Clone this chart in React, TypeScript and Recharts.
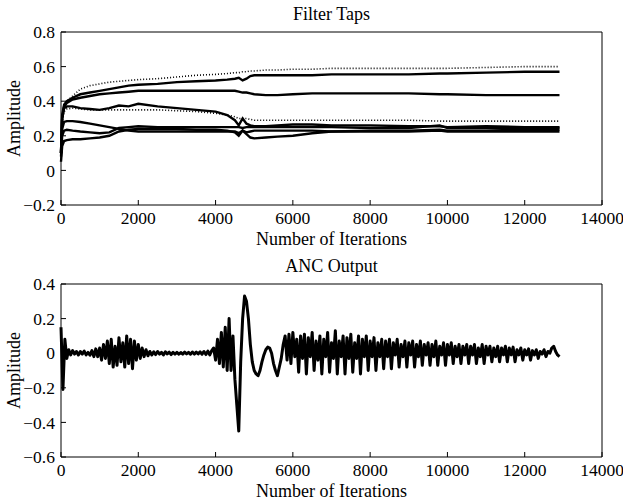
import React from "react";
import { LineChart, Line, XAxis, YAxis } from "recharts";

// ---------- Data ----------
const xTicks = [0, 2000, 4000, 6000, 8000, 10000, 12000, 14000];
const tapYTicks = [-0.2, 0, 0.2, 0.4, 0.6, 0.8];
const ancYTicks = [-0.6, -0.4, -0.2, 0, 0.2, 0.4];

const tapIter = [0, 30, 80, 150, 300, 500, 750, 1000, 1250, 1500, 1750, 2000, 2500, 3000, 3500, 4000, 4300, 4500, 4600, 4700, 4800, 4900, 5000, 5300, 5600, 6000, 6500, 7000, 8000, 9000, 9800, 10000, 11000, 12000, 12900];

const tap1 = [0.1, 0.3, 0.38, 0.4, 0.43, 0.47, 0.49, 0.5, 0.51, 0.515, 0.52, 0.525, 0.53, 0.54, 0.55, 0.555, 0.56, 0.565, 0.565, 0.57, 0.57, 0.575, 0.575, 0.58, 0.58, 0.585, 0.585, 0.59, 0.59, 0.59, 0.59, 0.59, 0.595, 0.6, 0.6];
const tap2 = [0.1, 0.32, 0.38, 0.4, 0.42, 0.44, 0.45, 0.46, 0.47, 0.48, 0.49, 0.495, 0.5, 0.51, 0.515, 0.52, 0.525, 0.53, 0.535, 0.52, 0.53, 0.545, 0.55, 0.55, 0.55, 0.55, 0.55, 0.555, 0.555, 0.555, 0.56, 0.56, 0.565, 0.57, 0.57];
const tap3 = [0.1, 0.3, 0.37, 0.39, 0.41, 0.42, 0.43, 0.44, 0.445, 0.45, 0.455, 0.46, 0.46, 0.46, 0.46, 0.46, 0.46, 0.46, 0.455, 0.45, 0.45, 0.445, 0.44, 0.435, 0.435, 0.44, 0.445, 0.445, 0.445, 0.445, 0.44, 0.44, 0.435, 0.435, 0.435];
const tap4 = [0.1, 0.3, 0.36, 0.37, 0.37, 0.36, 0.355, 0.35, 0.36, 0.375, 0.37, 0.385, 0.37, 0.36, 0.35, 0.34, 0.32, 0.29, 0.26, 0.3, 0.27, 0.26, 0.255, 0.255, 0.26, 0.265, 0.265, 0.26, 0.26, 0.255, 0.255, 0.25, 0.255, 0.25, 0.25];
const tap5 = [0.1, 0.28, 0.34, 0.355, 0.36, 0.355, 0.35, 0.35, 0.35, 0.35, 0.35, 0.35, 0.35, 0.345, 0.34, 0.33, 0.32, 0.31, 0.3, 0.3, 0.3, 0.295, 0.29, 0.29, 0.29, 0.29, 0.29, 0.29, 0.29, 0.29, 0.285, 0.285, 0.285, 0.285, 0.285];
const tap6 = [0.1, 0.24, 0.28, 0.285, 0.285, 0.28, 0.27, 0.26, 0.25, 0.24, 0.23, 0.225, 0.225, 0.225, 0.225, 0.225, 0.225, 0.225, 0.215, 0.23, 0.22, 0.225, 0.23, 0.23, 0.23, 0.23, 0.23, 0.225, 0.225, 0.225, 0.23, 0.225, 0.225, 0.225, 0.225];
const tap7 = [0.08, 0.2, 0.23, 0.235, 0.23, 0.225, 0.22, 0.215, 0.22, 0.245, 0.25, 0.255, 0.25, 0.25, 0.25, 0.25, 0.25, 0.25, 0.25, 0.245, 0.25, 0.25, 0.25, 0.25, 0.25, 0.25, 0.25, 0.25, 0.245, 0.245, 0.26, 0.245, 0.245, 0.245, 0.245];
const tap8 = [0.05, 0.14, 0.17, 0.175, 0.18, 0.18, 0.185, 0.19, 0.2, 0.225, 0.235, 0.24, 0.24, 0.24, 0.235, 0.235, 0.23, 0.22, 0.2, 0.23, 0.21, 0.19, 0.185, 0.19, 0.195, 0.2, 0.215, 0.225, 0.23, 0.23, 0.235, 0.23, 0.23, 0.235, 0.235];

// ANC output sampled every 50 iterations
const ANC_STEP = 50;
const ancValues = [
  0.15, -0.21, 0.08, -0.03, 0.02, -0.01, 0.015, -0.005, 0.01, -0.01,
  0.01, -0.005, 0.012, -0.01, 0.005, -0.012, 0.015, -0.02, 0.025, -0.02,
  0.03, -0.04, 0.05, -0.03, 0.07, -0.06, 0.08, -0.08, 0.04, -0.07,
  0.09, -0.05, 0.06, -0.08, 0.1, -0.06, 0.08, -0.09, 0.07, -0.04,
  0.05, -0.03, 0.03, -0.02, 0.02, -0.015, 0.01, -0.01, 0.008, -0.008,
  0.01, -0.005, 0.005, -0.01, 0.008, -0.004, 0.006, -0.008, 0.005, -0.005,
  0.005, -0.006, 0.004, -0.005, 0.006, -0.004, 0.005, -0.006, 0.007, -0.005,
  0.006, -0.004, 0.008, -0.006, 0.01, -0.008, 0.012, -0.01, 0.015, 0.03,
  -0.04, 0.08, -0.06, 0.12, -0.08, 0.15, -0.1, 0.2, -0.1, 0.1,
  -0.15, -0.3, -0.45, -0.05, 0.2, 0.33, 0.3, 0.2, 0.05, -0.05,
  -0.1, -0.12, -0.13, -0.1, -0.05, -0.01, 0.02, 0.035, 0.03, 0.0,
  -0.06, -0.1, -0.13, -0.08, -0.03, 0.05, 0.1, -0.04, 0.11, -0.06,
  0.12, -0.02, 0.08, -0.11, 0.1, -0.03, 0.11, -0.12, 0.09, -0.02,
  0.12, -0.1, 0.07, -0.04, 0.1, -0.12, 0.08, -0.02, 0.12, -0.11,
  0.06, -0.03, 0.13, -0.12, 0.07, -0.02, 0.1, -0.12, 0.09, -0.03,
  0.11, -0.11, 0.06, -0.03, 0.1, -0.12, 0.08, -0.02, 0.1, -0.1,
  0.07, -0.02, 0.09, -0.1, 0.06, -0.02, 0.08, -0.09, 0.07, -0.02,
  0.08, -0.09, 0.06, -0.01, 0.08, -0.08, 0.05, -0.02, 0.07, -0.08,
  0.06, -0.01, 0.07, -0.08, 0.05, -0.02, 0.07, -0.07, 0.05, -0.01,
  0.06, -0.07, 0.05, -0.02, 0.07, -0.07, 0.04, -0.01, 0.06, -0.07,
  0.05, -0.01, 0.06, -0.06, 0.04, -0.02, 0.05, -0.06, 0.04, -0.01,
  0.05, -0.06, 0.04, -0.01, 0.05, -0.06, 0.03, -0.02, 0.05, -0.06,
  0.04, -0.01, 0.04, -0.05, 0.03, -0.02, 0.04, -0.05, 0.03, -0.01,
  0.04, -0.05, 0.03, -0.01, 0.035, -0.05, 0.02, -0.01, 0.03, -0.04,
  0.02, -0.01, 0.025, -0.04, 0.015, -0.01, 0.02, -0.03, 0.01, -0.005,
  0.02, -0.02, 0.01, 0.0, 0.03, 0.04, 0.01, -0.01, -0.02,
];

const tapData = tapIter.map((it, i) => ({
  it,
  t1: tap1[i], t2: tap2[i], t3: tap3[i], t4: tap4[i],
  t5: tap5[i], t6: tap6[i], t7: tap7[i], t8: tap8[i],
}));
const ancData = ancValues.map((v, i) => ({ it: i * ANC_STEP, v }));

// ---------- Styling ----------
const FONT = "'Liberation Serif', 'Times New Roman', serif";
const titleStyle = { fontFamily: FONT, fontSize: 18, fill: "#000" };
const tickStyle = { fontFamily: FONT, fontSize: 17.5, fill: "#000" };
const W = 623;

const fmtY = (v: number) => (v === 0 ? "0" : v < 0 ? "\u2212" + Math.abs(v).toFixed(1) : v.toFixed(1));

const YTitle = (props: any) => {
  const vb = props.viewBox || {};
  const cy = vb.y + vb.height / 2;
  return (
    <text x={20} y={cy} transform={`rotate(-90, 20, ${cy})`} textAnchor="middle" style={titleStyle}>
      Amplitude
    </text>
  );
};
const XTitle = (props: any) => {
  const vb = props.viewBox || {};
  return (
    <text x={vb.x + vb.width / 2} y={vb.y + 40} textAnchor="middle" style={titleStyle}>
      Number of Iterations
    </text>
  );
};
const makeTitle = (t: string) => (props: any) => {
  const vb = props.viewBox || {};
  return (
    <text x={vb.x + vb.width / 2} y={vb.y - 11} textAnchor="middle" style={titleStyle}>
      {t}
    </text>
  );
};

const axisCommon = {
  stroke: "#000",
  tickSize: -5,
  tickLine: { stroke: "#000" },
  axisLine: { stroke: "#000" },
};

function Frame(props: { title: string; ticks: number[]; domain: [number, number] }) {
  return [
    <XAxis
      key="xb"
      xAxisId="b"
      dataKey="it"
      type="number"
      domain={[0, 14000]}
      ticks={xTicks}
      interval={0}
      height={45}
      tickMargin={12}
      tick={tickStyle}
      label={<XTitle />}
      {...axisCommon}
    />,
    <XAxis
      key="xt"
      xAxisId="t"
      dataKey="it"
      type="number"
      orientation="top"
      domain={[0, 14000]}
      ticks={xTicks}
      interval={0}
      height={1}
      tick={false}
      label={React.createElement(makeTitle(props.title))}
      {...axisCommon}
    />,
    <YAxis
      key="yl"
      yAxisId="l"
      type="number"
      domain={props.domain}
      ticks={props.ticks}
      interval={0}
      width={1}
      tickMargin={11}
      tick={tickStyle}
      tickFormatter={fmtY}
      label={<YTitle />}
      {...axisCommon}
    />,
    <YAxis
      key="yr"
      yAxisId="r"
      type="number"
      orientation="right"
      domain={props.domain}
      ticks={props.ticks}
      interval={0}
      width={1}
      tick={false}
      {...axisCommon}
    />,
  ];
}

const solid = { stroke: "#000", strokeWidth: 2.4, dot: false, isAnimationActive: false, xAxisId: "b", yAxisId: "l" } as const;
const dotted = { stroke: "#000", strokeWidth: 1.6, strokeDasharray: "1 2", dot: false, isAnimationActive: false, xAxisId: "b", yAxisId: "l" } as const;

export default function App() {
  return (
    <div style={{ position: "absolute", left: 0, top: 0, width: W, height: 503, background: "#fff" }}>
      <LineChart width={W} height={250} data={tapData} margin={{ top: 31, right: 20, left: 60, bottom: 0 }}>
        {Frame({ title: "Filter Taps", ticks: tapYTicks, domain: [-0.2, 0.8] })}
        <Line dataKey="t1" {...dotted} />
        <Line dataKey="t2" {...solid} />
        <Line dataKey="t3" {...solid} />
        <Line dataKey="t4" {...solid} />
        <Line dataKey="t5" {...dotted} />
        <Line dataKey="t6" {...solid} />
        <Line dataKey="t7" {...solid} />
        <Line dataKey="t8" {...solid} />
      </LineChart>
      <LineChart width={W} height={253} data={ancData} margin={{ top: 33, right: 20, left: 60, bottom: 1 }}>
        {Frame({ title: "ANC Output", ticks: ancYTicks, domain: [-0.6, 0.4] })}
        <Line dataKey="v" {...solid} strokeWidth={3} strokeLinejoin="round" />
      </LineChart>
    </div>
  );
}
